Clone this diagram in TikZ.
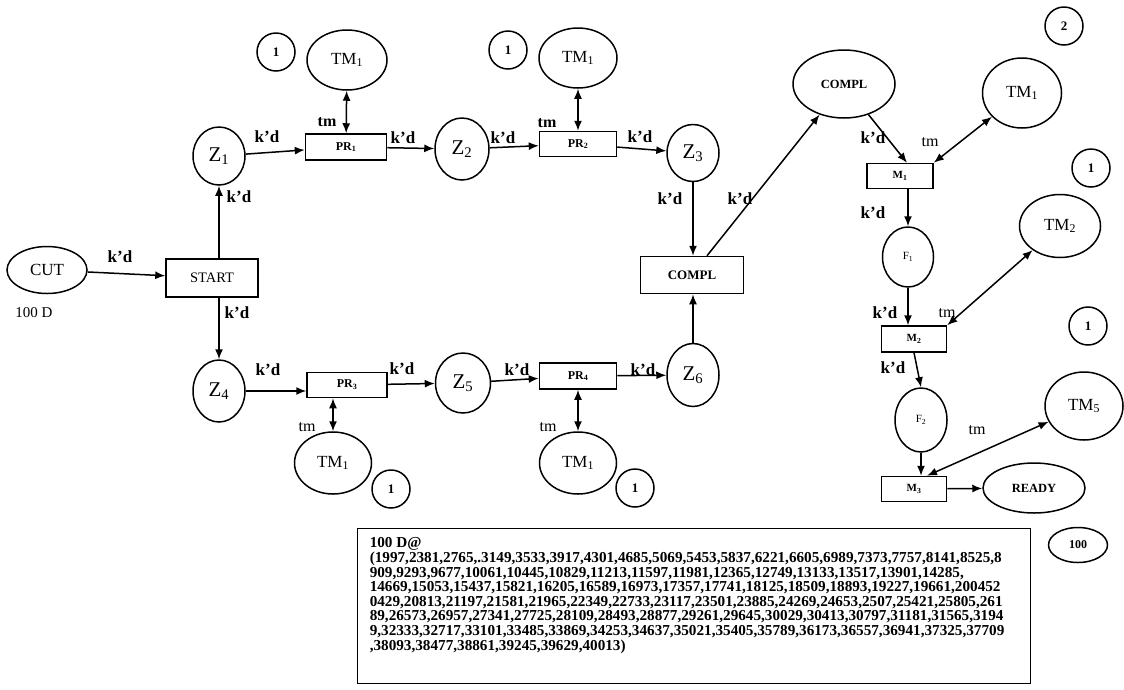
\documentclass[tikz,border=0pt]{standalone}
\usepackage{fontspec}
\setmainfont{Liberation Serif}
\usetikzlibrary{arrows.meta, shapes.geometric}
\newcommand{\fsz}[1]{\fontsize{#1}{#1}\selectfont}

\begin{document}
\begin{tikzpicture}[x=1pt, y=-1pt, line width=1.5pt,
  placenode/.style 2 args={draw, ellipse, inner sep=0pt, minimum width=#1pt, minimum height=#2pt},
  transbox/.style 2 args={draw, rectangle, inner sep=0pt, minimum width=#1pt, minimum height=#2pt},
  tokencirc/.style={draw, circle, inner sep=0pt, minimum size=38pt, font=\bfseries\fsz{13}},
  arc/.style={-{Latex[length=10pt,width=8pt]}},
  biarc/.style={{Latex[length=10pt,width=8pt]}-{Latex[length=10pt,width=8pt]}},
  kd/.style={font=\bfseries\fsz{17}},
  tmlbl/.style={font=\fsz{16}}]
\useasboundingbox (0,0) rectangle (1124,689);

% start and upper branch
\node[placenode={80}{47}, font=\fsz{17}] (cut) at (47,270) {CUT};
\node[font=\fsz{15}] (cutmark) at (34,313) {100 D};
\node[transbox={92}{38}, font=\fsz{14.5}] (start) at (212,278) {START};
\node[placenode={52}{58}, font=\fsz{21}] (z1) at (219,156) {Z\textsubscript{1}};
\node[transbox={81}{26}, font=\bfseries\fsz{12}] (pr1) at (346,147) {PR\textsubscript{1}};
\node[placenode={80}{60}, font=\fsz{17}] (tma) at (347,60) {TM\textsubscript{1}};
\node[tokencirc] (toka) at (276,52) {1};
\node[placenode={54}{62}, font=\fsz{21}] (z2) at (462,149) {Z\textsubscript{2}};
\node[transbox={77}{25}, font=\bfseries\fsz{12}] (pr2) at (578,144) {PR\textsubscript{2}};
\node[placenode={78}{60}, font=\fsz{17}] (tmb) at (578,58) {TM\textsubscript{1}};
\node[tokencirc] (tokb) at (508,50) {1};
\node[placenode={52}{57}, font=\fsz{21}] (z3) at (693,153) {Z\textsubscript{3}};

% lower branch
\node[placenode={52}{62}, font=\fsz{21}] (z4) at (219,391) {Z\textsubscript{4}};
\node[transbox={80}{25}, font=\bfseries\fsz{12}] (pr3) at (347,385) {PR\textsubscript{3}};
\node[placenode={77}{62}, font=\fsz{17}] (tmf) at (333,463) {TM\textsubscript{1}};
\node[tokencirc] (tokg) at (391,489) {1};
\node[placenode={55}{60}, font=\fsz{21}] (z5) at (463,383) {Z\textsubscript{5}};
\node[transbox={77}{26}, font=\bfseries\fsz{12}] (pr4) at (578,376) {PR\textsubscript{4}};
\node[placenode={77}{62}, font=\fsz{17}] (tmg) at (578,463) {TM\textsubscript{1}};
\node[tokencirc] (tokh) at (635,488) {1};
\node[placenode={52}{63}, font=\fsz{21}] (z6) at (693,375) {Z\textsubscript{6}};

% assembly
\node[transbox={103}{37}, font=\bfseries\fsz{13}] (complt) at (692,275) {COMPL};
\node[placenode={102}{68}, font=\bfseries\fsz{12.5}] (complp) at (844,84) {COMPL};
\node[tokencirc] (tokc) at (1064,26) {2};
\node[placenode={79}{70}, font=\fsz{17}] (tmc) at (1022,93) {TM\textsubscript{1}};
\node[transbox={66}{25}, font=\bfseries\fsz{11}] (m1) at (900,176) {M\textsubscript{1}};
\node[tokencirc] (tokd) at (1091,168) {1};
\node[placenode={51}{60}, font=\fsz{11}] (f1) at (908,257) {F\textsubscript{1}};
\node[placenode={81}{63}, font=\fsz{17}] (tmd) at (1060,226) {TM\textsubscript{2}};
\node[transbox={65}{26}, font=\bfseries\fsz{11}] (m2) at (914,339) {M\textsubscript{2}};
\node[tokencirc] (toke) at (1088,326) {1};
\node[placenode={52}{64}, font=\fsz{11}] (f2) at (921,420) {F\textsubscript{2}};
\node[placenode={78}{68}, font=\fsz{17}] (tme) at (1084,406) {TM\textsubscript{5}};
\node[transbox={65}{25}, font=\bfseries\fsz{11}] (m3) at (914,489) {M\textsubscript{3}};
\node[placenode={102}{50}, font=\bfseries\fsz{12.5}] (ready) at (1034,488) {READY};
\node[placenode={59}{35}, font=\bfseries\fsz{12}] (tokf) at (1078,545) {100};

% arcs
\draw[arc] (cut) -- (start);
\draw[arc] (start.north -| z1) -- (z1);
\draw[arc] (start.south -| z4) -- (z4);
\draw[arc] (z1) -- (pr1);
\draw[arc] (pr1) -- (z2);
\draw[arc] (z2) -- (pr2);
\draw[arc] (pr2) -- (z3);
\draw[arc] (z3) -- (z3 |- complt.north);
\draw[arc] (z4.east) -- (z4.east -| pr3.west);
\draw[arc] (pr3) -- (z5);
\draw[arc] (z5) -- (pr4);
\draw[arc] (pr4) -- (z6);
\draw[arc] (z6) -- (z6 |- complt.south);
\draw[arc] ([xshift=15pt]complt.north) -- (complp);
\draw[arc] (complp) -- ([xshift=7pt]m1.north);
\draw[arc] (f1.north |- m1.south) -- (f1.north);
\draw[arc] (f1.south) -- (f1.south |- m2.north);
\draw[arc] (m2.south) -- (f2.north);
\draw[arc] (f2.south) -- (f2.south |- m3.north);
\draw[arc] (m3) -- (ready);

% tool arcs
\draw[biarc] (pr1) -- (tma);
\draw[biarc] (pr2) -- (tmb);
\draw[biarc] (tmf.north |- pr3.south) -- (tmf.north);
\draw[biarc] (pr4) -- (tmg);
\draw[biarc] (m1.north east) -- (tmc);
\draw[biarc] (m2.north east) -- (tmd);
\draw[biarc] ([xshift=13pt]m3.north) -- (tme);

% labels
\node[kd] (lcut) at (120,257) {k'd};
\node[kd] (lz1) at (239,197) {k'd};
\node[kd] (lz4) at (237,313) {k'd};
\node[kd] (lpr1) at (267,137) {k'd};
\node[kd] (lz2) at (403,138) {k'd};
\node[kd] (lpr2) at (503,138) {k'd};
\node[kd] (lz3) at (640,137) {k'd};
\node[kd] (lca) at (670,199) {k'd};
\node[kd] (lcb) at (740,199) {k'd};
\node[kd] (lpr3) at (268,370) {k'd};
\node[kd] (lz5) at (402,369) {k'd};
\node[kd] (lpr4) at (517,370) {k'd};
\node[kd] (lz6) at (643,370) {k'd};
\node[kd] (lm1) at (873,138) {k'd};
\node[kd] (lf1) at (873,213) {k'd};
\node[kd] (lm2) at (885,313) {k'd};
\node[kd] (lf2) at (893,368) {k'd};
\node[tmlbl, font=\bfseries\fsz{16}] (ta) at (327,122) {tm};
\node[tmlbl, font=\bfseries\fsz{16}] (tb) at (547,123) {tm};
\node[tmlbl] (tf) at (307,427) {tm};
\node[tmlbl] (tg) at (548,427) {tm};
\node[tmlbl] (tc) at (930,142) {tm};
\node[tmlbl] (td) at (947,313) {tm};
\node[tmlbl] (te) at (977,430) {tm};

% marking
\node[draw, line width=1.2pt, anchor=north west, minimum width=673pt, minimum height=155pt] (databox) at (357,528) {};
\node[anchor=north west, align=left, inner sep=0pt, font=\bfseries\fontsize{15.2}{14.6}\selectfont] (datatext) at ([xshift=12pt,yshift=-9pt]databox.north west)
{100 D@\\
(1997,2381,2765,.3149,3533,3917,4301,4685,5069,5453,5837,6221,6605,6989,7373,7757,8141,8525,8\\
909,9293,9677,10061,10445,10829,11213,11597,11981,12365,12749,13133,13517,13901,14285,\\
14669,15053,15437,15821,16205,16589,16973,17357,17741,18125,18509,18893,19227,19661,200452\\
0429,20813,21197,21581,21965,22349,22733,23117,23501,23885,24269,24653,2507,25421,25805,261\\
89,26573,26957,27341,27725,28109,28493,28877,29261,29645,30029,30413,30797,31181,31565,3194\\
9,32333,32717,33101,33485,33869,34253,34637,35021,35405,35789,36173,36557,36941,37325,37709\\
,38093,38477,38861,39245,39629,40013)};
\end{tikzpicture}
\end{document}
